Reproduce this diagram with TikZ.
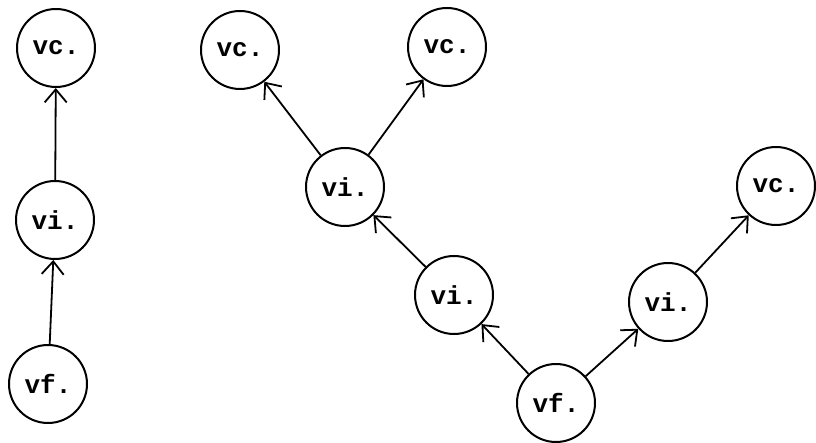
\documentclass[tikz,border=0pt]{standalone}
\usepackage{fontspec}
\setmonofont{Liberation Mono}
\usetikzlibrary{arrows.meta}
\tikzset{
  vert/.style={circle,draw,line width=2pt,minimum size=78pt,inner sep=0pt,
    font=\ttfamily\bfseries\fontsize{26}{26}\selectfont},
  edge/.style={line width=1.8pt,-{Straight Barb[length=13pt,width=22pt,line width=1.8pt]}}
}
\begin{document}
\begin{tikzpicture}[x=1pt,y=-1pt]
\useasboundingbox (0,0) rectangle (816,443);
% left chain
\node[vert] (vcA) at (56,48) {vc.};
\node[vert] (viA) at (55,220) {vi.};
\node[vert] (vfA) at (48,384) {vf.};
\draw[edge] (vfA) -- (viA);
\draw[edge] (viA) -- (vcA);
% tree
\node[vert] (vcB) at (240,50) {vc.};
\node[vert] (vcC) at (447,47) {vc.};
\node[vert] (viB) at (345,187) {vi.};
\node[vert] (viC) at (454,295) {vi.};
\node[vert] (vf)  at (556,403) {vf.};
\node[vert] (viD) at (668,302) {vi.};
\node[vert] (vcD) at (776,186) {vc.};
\draw[edge] (viB) -- (vcB);
\draw[edge] (viB) -- (vcC);
\draw[edge] (viC) -- (viB);
\draw[edge] (vf) -- (viC);
\draw[edge] (vf) -- (viD);
\draw[edge] (viD) -- (vcD);
\end{tikzpicture}
\end{document}
